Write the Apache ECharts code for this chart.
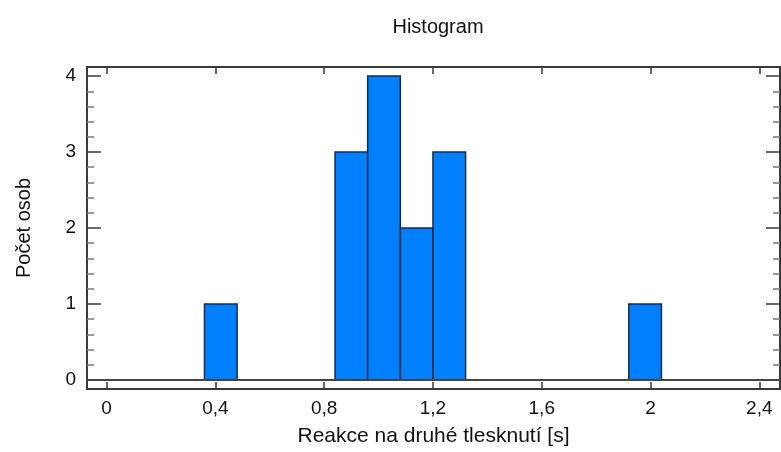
<!DOCTYPE html>
<html>
<head>
<meta charset="utf-8">
<script src="https://cdn.jsdelivr.net/npm/echarts@6/dist/echarts.min.js"></script>
<style>
  html, body { margin: 0; padding: 0; background: #fff; }
  #chart { width: 781px; height: 452px; }
</style>
</head>
<body>
<div id="chart"></div>
<script>
// Histogram bins: lower edge of each bin and its width (seconds)
const binStarts = [0.36, 0.48, 0.60, 0.72, 0.84, 0.96, 1.08, 1.20, 1.32, 1.44, 1.56, 1.68, 1.80, 1.92];
const binWidth = 0.12;
// Number of people in each bin
const counts = [1, 0, 0, 0, 3, 4, 2, 3, 0, 0, 0, 0, 0, 1];

// Axis ticks
const xTicks = [0, 0.4, 0.8, 1.2, 1.6, 2.0, 2.4];
const yTicks = [0, 1, 2, 3, 4];
const yMinorTicks = [0.2, 0.4, 0.6, 0.8, 1.2, 1.4, 1.6, 1.8, 2.2, 2.4, 2.6, 2.8, 3.2, 3.4, 3.6, 3.8];

const xRange = [-0.072, 2.476];
const yRange = [-0.12, 4.12];

const FONT = '"Liberation Sans", Arial, sans-serif';
const frameColor = '#3a3a3a';
const textColor = '#111111';

const bins = binStarts.map((s, i) => [s, s + binWidth, counts[i]]);

function xAxisDef(position, withLabels) {
  return {
    type: 'value',
    position: position,
    min: xRange[0],
    max: xRange[1],
    splitLine: { show: false },
    axisLine: { show: true, onZero: false, lineStyle: { color: frameColor, width: 2 } },
    axisTick: { show: true, inside: true, length: 7, customValues: xTicks,
                lineStyle: { color: frameColor, width: 1.5 } },
    axisLabel: withLabels ? {
      show: true, customValues: xTicks, margin: 10,
      fontFamily: FONT, fontSize: 19, color: textColor,
      formatter: v => String(Math.round(v * 10) / 10).replace('.', ',')
    } : { show: false },
    name: withLabels ? 'Reakce na druhé tlesknutí [s]' : '',
    nameLocation: 'middle',
    nameGap: 37,
    nameTextStyle: { fontFamily: FONT, fontSize: 21, color: textColor }
  };
}

function yAxisDef(position, values, tickLen, tickColor, withLabels) {
  return {
    type: 'value',
    position: position,
    min: yRange[0],
    max: yRange[1],
    splitLine: { show: false },
    axisLine: { show: true, onZero: false, lineStyle: { color: frameColor, width: 2 } },
    axisTick: { show: true, inside: true, length: tickLen, customValues: values,
                lineStyle: { color: tickColor, width: 1.5 } },
    axisLabel: withLabels ? {
      show: true, customValues: yTicks, margin: 11,
      fontFamily: FONT, fontSize: 19, color: textColor
    } : { show: false },
    name: withLabels ? 'Počet osob' : '',
    nameLocation: 'middle',
    nameGap: 53,
    nameRotate: 90,
    nameTextStyle: { fontFamily: FONT, fontSize: 20, color: textColor }
  };
}

const chart = echarts.init(document.getElementById('chart'));
chart.setOption({
  backgroundColor: '#ffffff',
  animation: false,
  title: {
    text: 'Histogram',
    left: 433,
    textAlign: 'center',
    top: 12,
    textStyle: { fontFamily: FONT, fontSize: 20, fontWeight: 'normal', color: textColor }
  },
  grid: { left: 87, right: 1, top: 67, bottom: 63 },
  xAxis: [
    xAxisDef('bottom', true),
    xAxisDef('top', false)
  ],
  yAxis: [
    yAxisDef('left', yTicks, 14, frameColor, true),
    yAxisDef('left', yMinorTicks, 7, '#777777', false),
    yAxisDef('right', yTicks, 14, frameColor, false),
    yAxisDef('right', yMinorTicks, 7, '#777777', false)
  ],
  series: [{
    type: 'custom',
    xAxisIndex: 0,
    yAxisIndex: 0,
    data: bins,
    encode: { x: [0, 1], y: 2 },
    renderItem: function (params, api) {
      const count = api.value(2);
      if (!count) return null;
      const p0 = api.coord([api.value(0), 0]);
      const p1 = api.coord([api.value(1), count]);
      return {
        type: 'rect',
        shape: { x: p0[0], y: p1[1], width: p1[0] - p0[0], height: p0[1] - p1[1] },
        style: { fill: '#0080ff', stroke: '#1c2a44', lineWidth: 1.5 }
      };
    },
    markLine: {
      silent: true,
      symbol: 'none',
      label: { show: false },
      lineStyle: { color: '#444444', width: 2, type: 'solid' },
      data: [{ yAxis: 0 }]
    }
  }]
});
</script>
</body>
</html>
